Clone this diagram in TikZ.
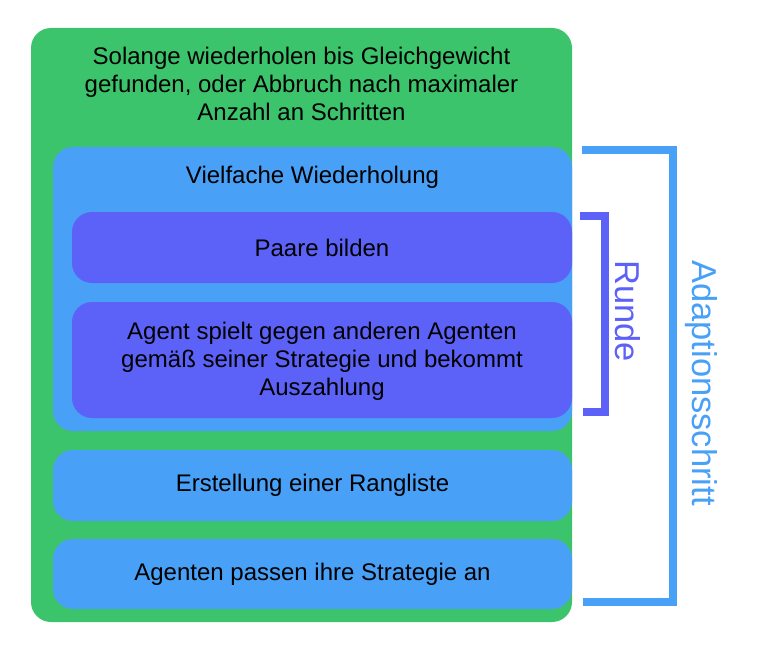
\documentclass[tikz,border=0pt]{standalone}
\usepackage{fontspec}
\setmainfont{Liberation Sans}
\definecolor{cgreen}{RGB}{59,196,107}
\definecolor{cblue}{RGB}{72,160,247}
\definecolor{cpurple}{RGB}{92,98,247}
\begin{document}
\begin{tikzpicture}[x=1pt,y=-1pt,
  box/.style={rounded corners=20pt, inner sep=0pt, draw=none},
  txt/.style={font=\fontsize{24}{28}\selectfont, align=center, text=black, inner sep=0pt},
  side/.style={font=\fontsize{34.5}{38}\selectfont, rotate=-90, inner sep=0pt},
  brk/.style={line width=8pt, line join=miter, line cap=butt}]
\useasboundingbox (0,0) rectangle (758,666);
% containers
\node[box, fill=cgreen, minimum width=541pt, minimum height=594pt] (outer) at (301.5,325) {};
\node[box, fill=cblue, minimum width=519pt, minimum height=284pt] (multi) at (312.5,289) {};
\node[box, fill=cpurple, minimum width=500pt, minimum height=71pt] (pairs) at (322,247.5) {};
\node[box, fill=cpurple, minimum width=500pt, minimum height=116pt] (play) at (322,360) {};
\node[box, fill=cblue, minimum width=519pt, minimum height=71pt] (rank) at (312.5,485.5) {};
\node[box, fill=cblue, minimum width=519pt, minimum height=70pt] (adapt) at (312.5,574) {};
% texts
\node[txt] (title) at (301.5,84) {Solange wiederholen bis Gleichgewicht\\gefunden, oder Abbruch nach maximaler\\Anzahl an Schritten};
\node[txt] (multit) at (312.5,177) {Vielfache Wiederholung};
\node[txt] (pairst) at (322,247.5) {Paare bilden};
\node[txt] (playt) at (322,361) {Agent spielt gegen anderen Agenten\\gemäß seiner Strategie und bekommt\\Auszahlung};
\node[txt] (rankt) at (312.5,485.5) {Erstellung einer Rangliste};
\node[txt] (adaptt) at (312.5,574) {Agenten passen ihre Strategie an};
% brackets
\draw[brk, draw=cblue] (582,150) -- (673,150) -- (673,602) -- (583,602);
\draw[brk, draw=cpurple] (580,216) -- (605,216) -- (605,411.5) -- (583,411.5);
\node[side, text=cblue] (adaptlab) at (701,383) {Adaptionsschritt};
\node[side, text=cpurple] (rundelab) at (628,311) {Runde};
\end{tikzpicture}
\end{document}
